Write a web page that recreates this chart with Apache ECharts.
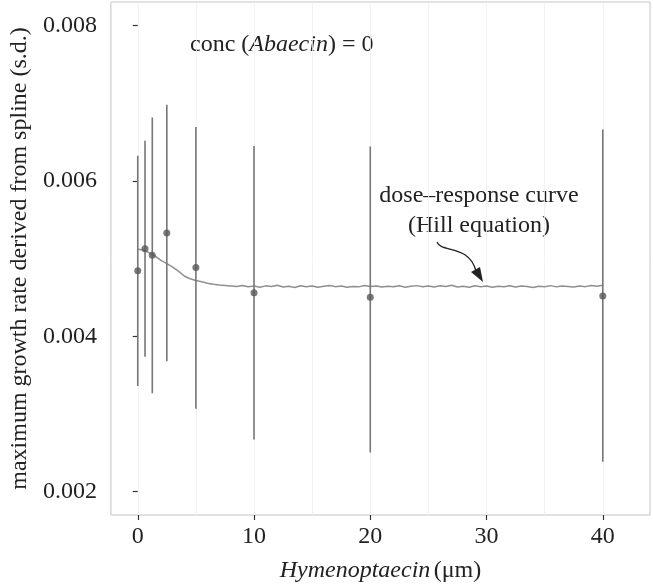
<!DOCTYPE html>
<html>
<head>
<meta charset="utf-8">
<script src="https://cdn.jsdelivr.net/npm/echarts@6/dist/echarts.min.js"></script>
<style>
html,body{margin:0;padding:0;background:#fff;}
#chart{width:653px;height:588px;}
</style>
</head>
<body>
<div id="chart"></div>
<script>
// ---- data ----
const concentrations = [0, 0.625, 1.25, 2.5, 5, 10, 20, 40];
const meanRate  = [0.004842, 0.005126, 0.005042, 0.005329, 0.004884, 0.004559, 0.004503, 0.004516];
const lowerSd   = [0.003360, 0.003737, 0.003267, 0.003677, 0.003067, 0.002670, 0.002504, 0.002386];
const upperSd   = [0.006323, 0.006516, 0.006815, 0.006977, 0.006691, 0.006447, 0.006440, 0.006660];

const curveX = [0,0.5,1,1.5,2,2.5,3,3.5,4,4.5,5,5.5,6,6.5,7,7.5,8,
  8.5,9,9.5,10,10.5,11,11.5,12,12.5,13,13.5,14,14.5,15,15.5,16,16.5,17,17.5,18,18.5,19,19.5,20,
  20.5,21,21.5,22,22.5,23,23.5,24,24.5,25,25.5,26,26.5,27,27.5,28,28.5,29,29.5,30,
  30.5,31,31.5,32,32.5,33,33.5,34,34.5,35,35.5,36,36.5,37,37.5,38,38.5,39,39.5,40];
const curveY = [0.005118,0.005108,0.005072,0.005030,0.004975,0.004935,0.004890,0.004838,0.004775,0.004740,
  0.004718,0.004700,0.004681,0.004668,0.004658,0.004652,0.004646,
  0.004640,0.004652,0.004636,0.004645,0.004630,0.004648,0.004641,0.004655,0.004633,0.004642,
  0.004628,0.004650,0.004637,0.004646,0.004631,0.004644,0.004652,0.004638,0.004647,0.004629,
  0.004641,0.004635,0.004653,0.004639,0.004646,0.004632,0.004644,0.004637,0.004649,0.004630,
  0.004643,0.004651,0.004636,0.004645,0.004633,0.004648,0.004640,0.004656,0.004634,0.004644,
  0.004631,0.004649,0.004638,0.004645,0.004629,0.004642,0.004636,0.004650,0.004633,0.004646,
  0.004639,0.004628,0.004643,0.004637,0.004651,0.004635,0.004647,0.004640,0.004632,0.004645,
  0.004638,0.004653,0.004643,0.004655];

const xTicks = [0, 10, 20, 30, 40];
const yTicks = [0.002, 0.004, 0.006, 0.008];
const xGridLines = [0, 5, 10, 15, 20, 25, 30, 35, 40];
const yGridLines = [0.002, 0.003, 0.004, 0.005, 0.006, 0.007, 0.008];

const xLabel = 'Hymenoptaecin';
const yLabel = 'maximum growth rate derived from spline (s.d.)';
// ---- chart ----
const FONT = "'Liberation Serif','DejaVu Serif',serif";
const chart = echarts.init(document.getElementById('chart'), null, {renderer: 'canvas'});

const errData = concentrations.map((c, i) => [c, lowerSd[i], upperSd[i]]);
const ptData = concentrations.map((c, i) => [c, meanRate[i]]);
const curveData = curveX.map((x, i) => [x, curveY[i]]);

const gridMarks = xGridLines.map(v => ({xAxis: v})).concat(yGridLines.map(v => ({yAxis: v})));

chart.setOption({
  animation: false,
  backgroundColor: '#fff',
  grid: {left: 110, right: 3, top: 2, bottom: 66, show: true, borderColor: '#c4c4c4', borderWidth: 1, backgroundColor: 'transparent'},
  xAxis: {
    type: 'value', min: -2.31, max: 44.06,
    axisLine: {show: false},
    axisTick: {show: true, length: 5, customValues: xTicks, lineStyle: {color: '#333', width: 1.2}},
    axisLabel: {customValues: xTicks, margin: 10, color: '#222', fontFamily: FONT, fontSize: 24},
    splitLine: {show: false},
    name: '{i|' + xLabel + '} {n|(μm)}',
    nameLocation: 'middle', nameGap: 44,
    nameTextStyle: {rich: {
      i: {fontFamily: FONT, fontStyle: 'italic', fontSize: 24, color: '#222'},
      n: {fontFamily: FONT, fontSize: 24, color: '#222'}
    }}
  },
  yAxis: {
    type: 'value', min: 0.0017, max: 0.0083,
    axisLine: {show: false},
    axisTick: {show: true, length: 5, customValues: yTicks, lineStyle: {color: '#333', width: 1.2}},
    axisLabel: {customValues: yTicks, margin: 14, color: '#222', fontFamily: FONT, fontSize: 24,
      formatter: v => v.toFixed(3)},
    splitLine: {show: false},
    name: yLabel, nameLocation: 'middle', nameRotate: 90, nameGap: 78,
    nameTextStyle: {fontFamily: FONT, fontSize: 24, color: '#222'}
  },
  series: [
    {
      type: 'line', data: curveData, showSymbol: false, symbol: 'none', z: 2,
      lineStyle: {color: '#8f8f8f', width: 1.5},
      markLine: {silent: true, symbol: 'none', label: {show: false}, animation: false,
        lineStyle: {color: '#efefef', width: 0.8, type: 'solid'}, data: gridMarks, z: 0}
    },
    {
      type: 'custom', data: errData, z: 3,
      renderItem: function (params, api) {
        const p1 = api.coord([api.value(0), api.value(1)]);
        const p2 = api.coord([api.value(0), api.value(2)]);
        return {type: 'line', shape: {x1: p1[0], y1: p1[1], x2: p2[0], y2: p2[1]},
          style: {stroke: '#777', lineWidth: 1.6}};
      }
    },
    {
      type: 'scatter', data: ptData, symbol: 'circle', symbolSize: 7, z: 4,
      itemStyle: {color: '#575757'}
    }
  ],
  graphic: [
    {type: 'text', left: 190, top: 33, style: {
      text: '{a|conc (}{b|Abaecin}{a|) = 0}',
      rich: {a: {fontFamily: FONT, fontSize: 24, fill: '#222'}, b: {fontFamily: FONT, fontSize: 24, fontStyle: 'italic', fill: '#222'}}
    }},
    {type: 'text', x: 479, y: 196, style: {text: 'dose–response curve', font: '24px ' + FONT, fill: '#222', align: 'center', verticalAlign: 'middle'}},
    {type: 'text', x: 479, y: 226, style: {text: '(Hill equation)', font: '24px ' + FONT, fill: '#222', align: 'center', verticalAlign: 'middle'}},
    {type: 'bezierCurve', shape: {x1: 437, y1: 242, cpx1: 441, cpy1: 253, cpx2: 469, cpy2: 244, x2: 476, y2: 271},
      style: {stroke: '#222', lineWidth: 1.3, fill: null}},
    {type: 'polygon', shape: {points: [[471, 272], [480, 267], [483, 282]]}, style: {fill: '#222'}}
  ]
});
</script>
</body>
</html>
